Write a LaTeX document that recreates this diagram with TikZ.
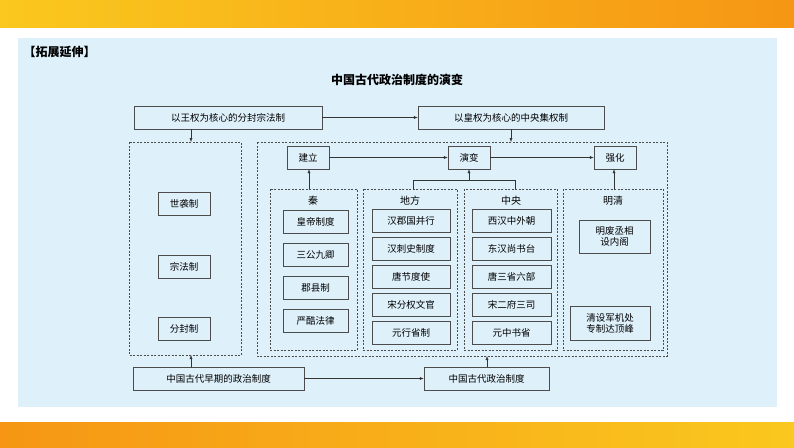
\documentclass[tikz,border=0pt]{standalone}
\usepackage{fontspec}
\setmainfont{Noto Sans CJK SC}
\usetikzlibrary{arrows.meta,positioning}
\definecolor{panelblue}{RGB}{222,240,250}
\definecolor{baryellow}{RGB}{250,200,30}
\definecolor{barorange}{RGB}{246,150,20}
\tikzset{
	box/.style={draw=black!70, fill=panelblue, font=\fontsize{9.5}{11}\selectfont, inner sep=1pt, minimum height=23pt},
	group/.style={draw=black!70, dashed, dash pattern=on 2pt off 1.5pt},
	link/.style={draw=black!80, -{Latex[length=4pt,width=3pt]}}
}
\begin{document}
\begin{tikzpicture}[x=1pt,y=-1pt]
	\useasboundingbox (0,0) rectangle (794,447);
	\shade [left color=baryellow, right color=barorange] (0,0) rectangle (794,27);
	\shade [left color=barorange, right color=baryellow] (0,422) rectangle (794,447);
	\fill [panelblue] (18,38) rectangle (777,407);
	\node [font=\bfseries\fontsize{12}{14}\selectfont, anchor=west] (head) at (20,52) {【拓展延伸】};
	\node [font=\bfseries\fontsize{12}{14}\selectfont] (title) at (397,80) {中国古代政治制度的演变};

	% top row
	\node [box, minimum width=188pt] (wang) at (228,117.5) {以王权为核心的分封宗法制};
	\node [box, minimum width=186pt] (huang) at (511,117.5) {以皇权为核心的中央集权制};
	\draw [link] (wang) -- (huang);

	% left panel
	\draw [group] (129,142) rectangle (241,355);
	\coordinate (ltop) at (191,142);
	\coordinate (lbot) at (191,355);
	\node [box, minimum width=52pt] (shixi) at (184,204) {世袭制};
	\node [box, minimum width=52pt] (zongfa) at (184,267) {宗法制};
	\node [box, minimum width=52pt] (fenfeng) at (184,329) {分封制};

	% right panel
	\draw [group] (257,142) rectangle (667,356);
	\coordinate (rtop) at (511,142);
	\coordinate (rbot) at (487,356);
	\node [box, minimum width=42pt] (jianli) at (308,157.5) {建立};
	\node [box, minimum width=42pt] (yanbian) at (469,157.5) {演变};
	\node [box, minimum width=42pt] (qianghua) at (615,157.5) {强化};
	\draw [link] (jianli) -- (yanbian);
	\draw [link] (yanbian) -- (qianghua);

	% sub panels
	\draw [group] (270,189) rectangle (357,350);
	\draw [group] (363,189) rectangle (457,350);
	\draw [group] (464,189) rectangle (557,350);
	\draw [group] (563,189) rectangle (663,350);
	\node (qin) at (313,201) {秦};
	\node (difang) at (410,201) {地方};
	\node (zhongyang) at (511,201) {中央};
	\node (mingqing) at (613,201) {明清};
	\coordinate (qinT) at (309,189);
	\coordinate (dfT) at (413,189);
	\coordinate (zyT) at (515,189);
	\coordinate (mqT) at (614,189);
	\draw [link] (qinT) -- (jianli.south -| qinT);
	\draw [link] (mqT) -- (qianghua.south -| mqT);
	\draw [draw=black!80] (dfT) |- (zyT |- 0,180) -- (zyT);
	\draw [link] (469,180) -- (yanbian);

	\foreach \t [count=\i] in {皇帝制度,三公九卿,郡县制,严酷法律}
		\node [box, minimum width=65pt] (qin\i) at (315.5,188.5+33*\i) {\t};
	\foreach \t [count=\i] in {汉郡国并行,汉刺史制度,唐节度使,宋分权文官,元行省制}
		\node [box, minimum width=78pt] (df\i) at (411,193+28*\i) {\t};
	\foreach \t [count=\i] in {西汉中外朝,东汉尚书台,唐三省六部,宋二府三司,元中书省}
		\node [box, minimum width=79pt] (zy\i) at (511.5,193+28*\i) {\t};
	\node [box, minimum width=71pt, minimum height=33pt, align=center] (mq1) at (614.5,236.5) {明废丞相\\设内阁};
	\node [box, minimum width=80pt, minimum height=34pt, align=center] (mq2) at (610,323) {清设军机处\\专制达顶峰};

	% bottom row
	\node [box, minimum width=171pt] (zaoqi) at (218.5,378.5) {中国古代早期的政治制度};
	\node [box, minimum width=125pt] (gudai) at (486.5,378.5) {中国古代政治制度};
	\draw [link] (zaoqi) -- (gudai);
	\draw [link] (zaoqi.north -| lbot) -- (lbot);
	\draw [link] (gudai.north -| rbot) -- (rbot);
	\draw [link] (wang.south -| ltop) -- (ltop);
	\draw [link] (huang.south -| rtop) -- (rtop);
\end{tikzpicture}
\end{document}
